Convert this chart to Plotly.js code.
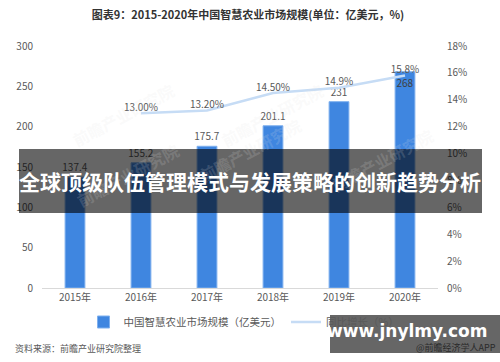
<!DOCTYPE html>
<html>
<head>
<meta charset="utf-8">
<script src="https://cdn.plot.ly/plotly-3.0.1.min.js"></script>
<style>html,body{margin:0;padding:0;background:#fff;}#chart{width:500px;height:362px;}</style>
</head>
<body>
<div id="chart"></div>
<script>
// ---- data ----
const years = ['2015年', '2016年', '2017年', '2018年', '2019年', '2020年'];
const marketSize = [137.4, 155.2, 175.7, 201.1, 231, 268];
const marketLabels = ['137.4', '155.2', '175.7', '201.1', '231', '268'];
const growthYears = ['2016年', '2017年', '2018年', '2019年', '2020年'];
const growthRate = [13.0, 13.2, 14.5, 14.9, 15.8];
const growthLabels = ['13.00%', '13.20%', '14.50%', '14.9%', '15.8%'];
const leftTicks = [0, 50, 100, 150, 200, 250, 300];
const rightTicks = [0, 2, 4, 6, 8, 10, 12, 14, 16, 18];
const rightTickLabels = ['0%', '2%', '4%', '6%', '8%', '10%', '12%', '14%', '16%', '18%'];

const FONT = '"Noto Sans CJK SC", "Noto Sans", sans-serif';
const W = 500, H = 362, L = 42, R = 438, T = 46, B = 288;
const px = x => (x - L) / (R - L);
const py = y => (B - y) / (B - T);

const barTrace = {
  type: 'bar', x: years, y: marketSize, name: '中国智慧农业市场规模（亿美元）',
  marker: {color: '#3f86e0', line: {color: '#7fb0ee', width: 1}},
  text: marketLabels,
  textposition: ['outside', 'outside', 'outside', 'outside', 'outside', 'inside'],
  insidetextanchor: 'end', textangle: 0, constraintext: 'none',
  textfont: {family: FONT, size: 10, color: '#595959'},
  insidetextfont: {family: FONT, size: 10, color: '#404040'},
  outsidetextfont: {family: FONT, size: 10, color: '#595959'},
  cliponaxis: false, hoverinfo: 'skip'
};
const lineTrace = {
  type: 'scatter', mode: 'lines+text', x: growthYears, y: growthRate, yaxis: 'y2',
  name: '同比增长（%）', line: {color: '#c6dcf5', width: 2.5},
  text: growthLabels, textposition: 'top center',
  textfont: {family: FONT, size: 10, color: '#595959'},
  cliponaxis: false, hoverinfo: 'skip'
};

const wm = (x, y) => ({
  xref: 'paper', yref: 'paper', x: px(x), y: py(y), text: '前瞻产业研究院', showarrow: false,
  textangle: -28, font: {family: FONT, size: 16, color: 'rgba(225,225,225,0.18)', weight: 'bold'}
});

const layout = {
  width: W, height: H,
  margin: {l: L, r: W - R, t: T, b: H - B, pad: 0},
  paper_bgcolor: '#ffffff', plot_bgcolor: '#ffffff',
  font: {family: FONT, size: 10, color: '#595959'},
  title: {text: '图表9：2015-2020年中国智慧农业市场规模(单位：亿美元，%)',
    x: 0.496, xref: 'container', xanchor: 'center', y: 1 - 15 / H, yanchor: 'middle',
    font: {family: FONT, size: 11, color: '#333333', weight: 'bold'}},
  bargap: 0.7,
  showlegend: true,
  legend: {orientation: 'h', x: px(244), xanchor: 'center', y: py(322), yanchor: 'middle',
    font: {family: FONT, size: 10.5, color: '#595959'}, itemwidth: 30, traceorder: 'normal',
    bgcolor: 'rgba(0,0,0,0)'},
  xaxis: {type: 'category', showgrid: false, zeroline: false, showline: true, linecolor: '#d9d9d9',
    linewidth: 1, ticks: '', tickfont: {family: FONT, size: 10, color: '#595959'}, fixedrange: true},
  yaxis: {range: [0, 300], tickvals: leftTicks, showgrid: false, zeroline: false, showline: false,
    ticks: '', ticklabelstandoff: 8, tickfont: {family: FONT, size: 10, color: '#595959'}, fixedrange: true},
  yaxis2: {range: [0, 18], tickmode: 'array', tickvals: rightTicks, ticktext: rightTickLabels,
    overlaying: 'y', side: 'right',
    showgrid: false, zeroline: false, showline: false, ticks: '', ticklabelstandoff: 8,
    tickfont: {family: FONT, size: 10, color: '#595959'}, fixedrange: true},
  shapes: [
    {type: 'rect', xref: 'paper', yref: 'paper', layer: 'above', line: {width: 0},
      x0: px(19), x1: px(482), y0: py(149), y1: py(213), fillcolor: 'rgba(0,0,0,0.6)'},
    {type: 'rect', xref: 'paper', yref: 'paper', layer: 'above', line: {width: 0},
      x0: px(330), x1: px(500), y0: py(315), y1: py(353), fillcolor: 'rgba(0,0,0,0.6)'}
  ],
  annotations: [
    wm(65, 75), wm(70, 215), wm(250, 110), wm(330, 75), wm(440, 120),
    {xref: 'paper', yref: 'paper', x: px(13), y: py(348), xanchor: 'left', yanchor: 'middle',
      text: '资料来源：前瞻产业研究院整理', showarrow: false,
      font: {family: FONT, size: 9, color: '#595959'}},
    {xref: 'paper', yref: 'paper', x: px(250), y: py(181), xanchor: 'center', yanchor: 'middle',
      text: '全球顶级队伍管理模式与发展策略的创新趋势分析', showarrow: false,
      font: {family: FONT, size: 21, color: '#ffffff', weight: 'bold'}},
    {xref: 'paper', yref: 'paper', x: px(407), y: py(331), xanchor: 'center', yanchor: 'middle',
      text: 'www.jnylmy.com', showarrow: false,
      font: {family: '"DejaVu Sans", sans-serif', size: 17, color: '#ffffff', weight: 'bold'}},
    {xref: 'paper', yref: 'paper', x: px(498), y: py(347), xanchor: 'right', yanchor: 'middle',
      text: '@前瞻经济学人APP', showarrow: false,
      font: {family: FONT, size: 9, color: '#2a2a2a'}}
  ]
};

Plotly.newPlot('chart', [barTrace, lineTrace], layout, {displayModeBar: false, staticPlot: true});
</script>
</body>
</html>
